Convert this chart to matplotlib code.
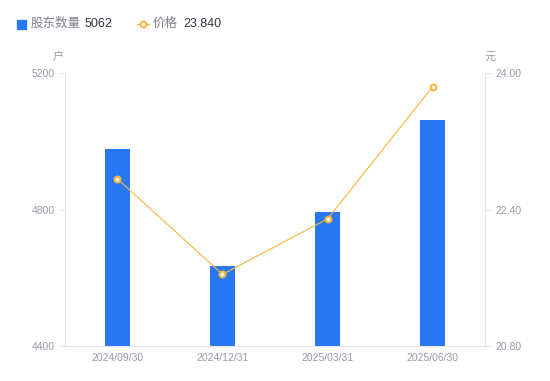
import matplotlib
matplotlib.use('Agg')
import matplotlib.pyplot as plt
from matplotlib.lines import Line2D
import numpy as np

plt.rcParams['font.family'] = ['Liberation Sans', 'Noto Sans CJK SC', 'DejaVu Sans']

dates = ['2024/09/30', '2024/12/31', '2025/03/31', '2025/06/30']
holders = [4978, 4634, 4794, 5062]
prices = [22.76, 21.64, 22.29, 23.84]

bar_color = '#2878F5'
line_color = '#F7B541'
tick_color = '#9A9AA8'
axis_color = '#E3E3E8'

fig = plt.figure(figsize=(5.5, 3.81), dpi=100)
ax = fig.add_axes([0.118, 0.092, 0.764, 0.716])
ax2 = ax.twinx()

x = np.arange(len(dates))
ax.bar(x, holders, width=0.24, color=bar_color, zorder=2)
ax.set_xlim(-0.5, len(dates) - 0.5)
ax.set_ylim(4400, 5200)
ax.set_yticks([4400, 4800, 5200])
ax.set_xticks(x)
ax.set_xticklabels(dates)

ax2.plot(x, prices, color=line_color, lw=0.8, marker='o', markersize=4.2,
         markerfacecolor='white', markeredgecolor=line_color, markeredgewidth=1.5, zorder=3)
ax2.set_ylim(20.8, 24.0)
ax2.set_yticks([20.8, 22.4, 24.0])
ax2.set_yticklabels(['20.80', '22.40', '24.00'])

for a in (ax, ax2):
    for s in a.spines.values():
        s.set_visible(False)
    a.tick_params(colors=tick_color, labelsize=7.5, length=4, width=0.8)
    a.tick_params(axis='y', color=axis_color)
ax.spines['left'].set_visible(True)
ax.spines['left'].set_color(axis_color)
ax.spines['bottom'].set_visible(True)
ax.spines['bottom'].set_color(axis_color)
ax2.spines['right'].set_visible(True)
ax2.spines['right'].set_color(axis_color)
ax.tick_params(axis='x', length=0, pad=5)

fig.text(58 / 550, 1 - 57 / 381, '户', color=tick_color, fontsize=8, ha='center', va='center')
fig.text(490 / 550, 1 - 57 / 381, '元', color=tick_color, fontsize=8, ha='center', va='center')

# legend
fig.patches.append(plt.Rectangle((17 / 550, 1 - 29 / 381), 9 / 550, 9 / 381,
                                 transform=fig.transFigure, color=bar_color))
fig.text(31 / 550, 1 - 24 / 381, '股东数量', color='#808090', fontsize=9, va='center')
fig.text(85 / 550, 1 - 24 / 381, '5062', color='#333340', fontsize=9, va='center')
fig.lines.append(Line2D([137 / 550, 149 / 550], [1 - 24 / 381, 1 - 24 / 381], transform=fig.transFigure,
                        color=line_color, lw=1))
fig.lines.append(Line2D([143 / 550], [1 - 24 / 381], transform=fig.transFigure, color=line_color,
                        marker='o', markersize=4.2, markerfacecolor='white', markeredgewidth=1.5))
fig.text(153 / 550, 1 - 24 / 381, '价格', color='#808090', fontsize=9, va='center')
fig.text(183 / 550, 1 - 24 / 381, '23.840', color='#333340', fontsize=9, va='center')

fig.savefig('out.png', dpi=100)
